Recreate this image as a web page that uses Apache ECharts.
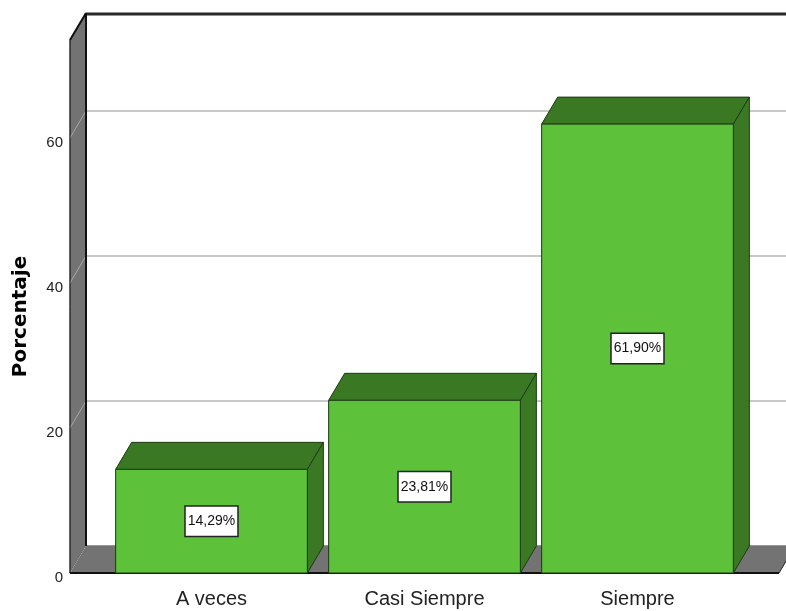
<!DOCTYPE html>
<html><head><meta charset="utf-8">
<script src="https://cdn.jsdelivr.net/npm/echarts@6/dist/echarts.min.js"></script>
<style>html,body{margin:0;padding:0;background:#fff}#c{width:786px;height:611px}</style>
</head><body><div id="c"></div>
<script>
// ---- data ----
const categories = ['A veces', 'Casi Siempre', 'Siempre'];
const percentages = [14.29, 23.81, 61.90];
const valueLabels = ['14,29%', '23,81%', '61,90%'];
const yTicks = [0, 20, 40, 60];
const yMax = 73.5;

// ---- style constants ----
const DX = 16, DY = -27, PAD = 35, BAR = 0.9;
const NARROW = '"Liberation Sans Narrow","Arial Narrow","Liberation Sans",sans-serif';
const GREEN = '#5dc13a', DARKG = '#3b7824', EDGE = '#1d3a12';
const WALL = '#737373';

const chart = echarts.init(document.getElementById('c'), null, {renderer: 'canvas'});

function renderFrame(params, api) {
  if (params.dataIndex !== 0) return;
  const cs = params.coordSys;
  const x0 = cs.x - PAD, x1 = cs.x + cs.width + PAD;
  const yTop = cs.y, yBot = cs.y + cs.height;
  const children = [];
  children.push({type: 'polygon', shape: {points: [[x0, yTop], [x0 + DX, yTop + DY], [x0 + DX, yBot + DY], [x0, yBot]]},
    style: {fill: WALL, stroke: '#222', lineWidth: 1}});
  children.push({type: 'polygon', shape: {points: [[x0, yBot], [x0 + DX, yBot + DY], [x1 + DX, yBot + DY], [x1, yBot]]},
    style: {fill: WALL, stroke: '#222', lineWidth: 1}});
  yTicks.forEach(function (t) {
    const yf = api.coord([0, t])[1];
    children.push({type: 'line', shape: {x1: x0 + DX, y1: yf + DY, x2: x1 + DX, y2: yf + DY},
      style: {stroke: t !== 0 ? '#c8c8c8' : '#9a9a9a', lineWidth: t !== 0 ? 2 : 1}});
    children.push({type: 'line', shape: {x1: x0, y1: yf, x2: x0 + DX, y2: yf + DY},
      style: {stroke: '#a8a8a8', lineWidth: 1}});
  });
  children.push({type: 'line', shape: {x1: x0 + DX, y1: yTop + DY + 1, x2: x1 + DX + 20, y2: yTop + DY + 1},
    style: {stroke: '#2a2a2a', lineWidth: 3}});
  children.push({type: 'line', shape: {x1: x0 + DX, y1: yTop + DY, x2: x0 + DX, y2: yBot + DY},
    style: {stroke: '#111', lineWidth: 2}});
  children.push({type: 'line', shape: {x1: x0, y1: yTop, x2: x0 + DX, y2: yTop + DY},
    style: {stroke: '#111', lineWidth: 2}});
  children.push({type: 'line', shape: {x1: x0, y1: yTop, x2: x0, y2: yBot},
    style: {stroke: '#333', lineWidth: 1}});
  children.push({type: 'line', shape: {x1: x0, y1: yBot, x2: x1, y2: yBot},
    style: {stroke: '#111', lineWidth: 2}});
  return {type: 'group', children: children};
}

function renderBar(params, api) {
  const i = api.value(0), v = api.value(1);
  const top = api.coord([i, v]), base = api.coord([i, 0]);
  const w = api.size([1, 0])[0] * BAR;
  const xl = top[0] - w / 2, xr = top[0] + w / 2;
  const yt = top[1], yb = base[1];
  return {type: 'group', children: [
    {type: 'polygon', shape: {points: [[xl, yt], [xl + DX, yt + DY], [xr + DX, yt + DY], [xr, yt]]},
      style: {fill: DARKG, stroke: EDGE, lineWidth: 1}},
    {type: 'polygon', shape: {points: [[xr, yt], [xr + DX, yt + DY], [xr + DX, yb + DY], [xr, yb]]},
      style: {fill: DARKG, stroke: EDGE, lineWidth: 1}},
    {type: 'rect', shape: {x: xl, y: yt, width: w, height: yb - yt},
      style: {fill: GREEN, stroke: EDGE, lineWidth: 1}},
    {type: 'text', x: top[0], y: (yt + yb) / 2,
      style: {text: valueLabels[params.dataIndex], font: '14px ' + NARROW, fill: '#111',
        align: 'center', verticalAlign: 'middle', backgroundColor: '#fff',
        borderColor: '#222', borderWidth: 1.5, padding: [8, 2, 7, 2]}}
  ]};
}

chart.setOption({
  animation: false,
  grid: {left: 105, right: 42, top: 40, bottom: 38},
  xAxis: {
    type: 'category', data: categories,
    axisLine: {show: false}, axisTick: {show: false}, splitLine: {show: false},
    axisLabel: {margin: 16, fontFamily: NARROW, fontSize: 20, color: '#222'}
  },
  yAxis: {
    type: 'value', min: 0, max: yMax, interval: 20, offset: PAD,
    axisLine: {show: false}, axisTick: {show: false}, splitLine: {show: false},
    axisLabel: {margin: 7, fontFamily: NARROW, fontSize: 15, color: '#222',
      verticalAlign: 'top', lineHeight: 10,
      customValues: yTicks,
      formatter: function (v) { return yTicks.indexOf(v) >= 0 ? String(v) : ''; }},
    name: 'Porcentaje', nameLocation: 'middle', nameRotate: 90, nameGap: 39,
    nameTextStyle: {fontFamily: '"DejaVu Sans",sans-serif', fontWeight: 'bold', fontSize: 20, color: '#000',
      padding: [0, 20, 0, 0]}
  },
  series: [
    {type: 'custom', renderItem: renderFrame, data: [[0, 0]], encode: {x: 0, y: 1}, z: 1, silent: true},
    {type: 'custom', renderItem: renderBar, data: categories.map(function (c, i) { return [i, percentages[i]]; }),
      encode: {x: 0, y: 1}, z: 2}
  ]
});
</script></body></html>
